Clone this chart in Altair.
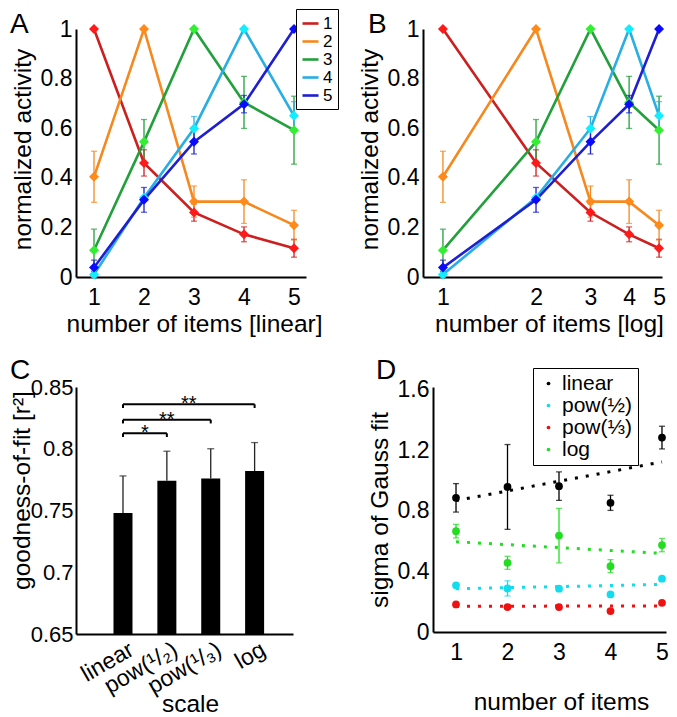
import json
import altair as alt
import pandas as pd

FONT = "Liberation Sans"

# ---------------- data: panels A / B ----------------
items = [1, 2, 3, 4, 5]
series = ["1", "2", "3", "4", "5"]
act_1 = [1.0, 0.46, 0.26, 0.172, 0.116]
act_2 = [0.404, 1.0, 0.304, 0.304, 0.209]
act_3 = [0.108, 0.545, 1.0, 0.704, 0.592]
act_4 = [0.01, 0.32, 0.599, 1.0, 0.65]
act_5 = [0.038, 0.311, 0.545, 0.697, 1.0]
err_1 = [0.0, 0.053, 0.035, 0.03, 0.036]
err_2 = [0.103, 0.0, 0.063, 0.088, 0.06]
err_3 = [0.085, 0.09, 0.0, 0.105, 0.137]
err_4 = [0.012, 0.0, 0.048, 0.0, 0.057]
err_5 = [0.03, 0.05, 0.049, 0.035, 0.0]
line_colors = ["#cc1f1f", "#f5891f", "#22a03c", "#27aee3", "#1e1ed2"]
marker_colors = ["#ff1a1a", "#ff8a1a", "#33ee33", "#11eeff", "#0a0aff"]

# ---------------- data: panel C ----------------
scales = ["linear", "pow(¹/₂)", "pow(¹/₃)", "log"]
scale_idx = [0, 1, 2, 3]
fit = [0.748, 0.774, 0.776, 0.782]
fit_err = [0.030, 0.024, 0.024, 0.023]
br_from = [0, 0, 0]
br_to = [1, 2, 3]
br_y = [0.8125, 0.8235, 0.836]
br_stars = ["*", "**", "**"]

# ---------------- data: panel D ----------------
d_names = ["linear", "pow(½)", "pow(⅓)", "log"]
d_colors = ["#000000", "#11ddee", "#ee1111", "#22dd22"]
sig_linear = [0.886, 0.958, 0.963, 0.853, 1.284]
sig_linear_err = [0.094, 0.28, 0.094, 0.05, 0.075]
sig_pow2 = [0.308, 0.288, 0.286, 0.248, 0.352]
sig_pow2_err = [0.012, 0.05, 0.012, 0.01, 0.012]
sig_pow3 = [0.182, 0.165, 0.165, 0.138, 0.193]
sig_pow3_err = [0.01, 0.01, 0.01, 0.01, 0.01]
sig_log = [0.666, 0.457, 0.637, 0.435, 0.574]
sig_log_err = [0.045, 0.043, 0.18, 0.043, 0.044]
trend_x = [1, 5]
trend_linear = [0.868, 1.123]
trend_pow2 = [0.286, 0.314]
trend_pow3 = [0.170, 0.172]
trend_log = [0.596, 0.519]

# ---------------- tables ----------------
acts = [act_1, act_2, act_3, act_4, act_5]
errs = [err_1, err_2, err_3, err_4, err_5]
df_act = pd.DataFrame(
    [
        {"items": items[i], "series": s, "act": acts[k][i], "err": errs[k][i]}
        for k, s in enumerate(series)
        for i in range(len(items))
    ]
)
df_fit = pd.DataFrame({"idx": scale_idx, "scale": scales, "fit": fit, "err": fit_err})
df_br = pd.DataFrame({"a": br_from, "b": br_to, "y": br_y, "stars": br_stars})

sig_vals = [sig_linear, sig_pow2, sig_pow3, sig_log]
sig_errs = [sig_linear_err, sig_pow2_err, sig_pow3_err, sig_log_err]
df_sig = pd.DataFrame(
    [
        {"items": items[i], "scale": n, "sigma": sig_vals[k][i], "err": sig_errs[k][i]}
        for k, n in enumerate(d_names)
        for i in range(len(items))
    ]
)
trends = [trend_linear, trend_pow2, trend_pow3, trend_log]
df_trend = pd.DataFrame(
    [
        {"items": trend_x[i], "scale": n, "sigma": trends[k][i]}
        for k, n in enumerate(d_names)
        for i in range(2)
    ]
)

# ---------------- styles ----------------
axis_base = dict(
    domainColor="black", domainWidth=2, ticks=False, tickSize=0, grid=False,
    labelFont=FONT, labelColor="black", labelOverlap=False,
    labelFlush=False,
    titleFont=FONT, titleFontSize=24.5, titleFontWeight="normal", titleColor="black",
)


def letter(ch, x, y):
    return alt.Chart(pd.DataFrame({"t": [ch]})).mark_text(
        font=FONT, fontSize=28, align="left", baseline="alphabetic", color="black"
    ).encode(text="t:N", x=alt.value(x), y=alt.value(y))


def activity_panel(ch, x_scale, x_title, width, title_x, legend, letter_x, letter_y):
    xax = alt.Axis(values=items, format="d", title=x_title, labelPadding=9,
                   titlePadding=3, titleX=title_x, labelFontSize=23, **axis_base)
    yax = alt.Axis(values=[0, 0.2, 0.4, 0.6, 0.8, 1.0], format=".1~f",
                   title="normalized activity", labelPadding=4, titlePadding=5,
                   titleY=120, labelFontSize=23, **axis_base)
    ysc = alt.Scale(domain=[0, 1], nice=False)
    base = alt.Chart(df_act)
    col = alt.Color("series:N", scale=alt.Scale(domain=series, range=line_colors),
                    legend=legend)
    col_nl = alt.Color("series:N", legend=None)
    lines = base.mark_line(strokeWidth=2.6).encode(
        x=alt.X("items:Q", scale=x_scale, axis=xax),
        y=alt.Y("act:Q", scale=ysc, axis=yax),
        color=col,
    )
    eb = base.transform_filter("datum.err > 0").transform_calculate(
        lo="datum.act - datum.err", hi="datum.act + datum.err"
    )
    rules = eb.mark_rule(strokeWidth=1.3).encode(
        x=alt.X("items:Q", scale=x_scale, axis=xax),
        y=alt.Y("lo:Q", scale=ysc, axis=yax), y2="hi:Q", color=col_nl,
    )
    cap_hi = eb.mark_tick(orient="horizontal", size=6, thickness=1.3).encode(
        x=alt.X("items:Q", scale=x_scale, axis=xax),
        y=alt.Y("hi:Q", scale=ysc, axis=yax), color=col_nl,
    )
    cap_lo = eb.mark_tick(orient="horizontal", size=6, thickness=1.3).encode(
        x=alt.X("items:Q", scale=x_scale, axis=xax),
        y=alt.Y("lo:Q", scale=ysc, axis=yax), color=col_nl,
    )
    markers = base.mark_point(filled=True, shape="diamond", size=100, opacity=1).encode(
        x=alt.X("items:Q", scale=x_scale, axis=xax),
        y=alt.Y("act:Q", scale=ysc, axis=yax),
        fill=alt.Fill("series:N", scale=alt.Scale(domain=series, range=marker_colors),
                      legend=None),
    )
    return alt.layer(lines, rules, cap_hi, cap_lo, markers,
                     letter(ch, letter_x, letter_y)).properties(width=width, height=248)


legend_a = alt.Legend(
    orient="none", legendX=220, legendY=-20, title=None, strokeColor="black",
    fillColor="white", padding=5, labelFont=FONT, labelFontSize=17,
    labelColor="black", symbolType="stroke", symbolSize=256, symbolStrokeWidth=2.6,
    labelOffset=3, rowPadding=-3,
)

panel_a = activity_panel(
    "A", alt.Scale(domain=[0.64, 5.24], nice=False, zero=False),
    "number of items [linear]", 230, 118, legend_a, -66, 4,
)
panel_b = activity_panel(
    "B", alt.Scale(type="log", domain=[0.862, 5.11], nice=False),
    "number of items [log]", 239, 126, None, -55, 4,
)

# ---------------- panel C ----------------
xsc_c = alt.Scale(domain=[-0.957, 3.761], nice=False, zero=False)
ysc_c = alt.Scale(domain=[0.65, 0.85], nice=False, zero=False)
label_expr = json.dumps(scales, ensure_ascii=False) + "[datum.value]"
xax_c = alt.Axis(values=scale_idx, labelExpr=label_expr, title="scale",
                 labelAngle=-30, labelAlign="right", labelBaseline="top",
                 labelPadding=4, labelOffset=3, titleY=58, titleBaseline="top",
                 titleX=114, labelFontSize=23, **axis_base)
yax_c = alt.Axis(values=[0.65, 0.7, 0.75, 0.8, 0.85], format=".2~f",
                 title="goodness-of-fit [r²]", labelPadding=3, titlePadding=-4,
                 titleY=103, labelFontSize=22, **axis_base)
base_c = alt.Chart(df_fit)
bars = base_c.mark_bar(size=19, color="black", clip=True).encode(
    x=alt.X("idx:Q", scale=xsc_c, axis=xax_c),
    y=alt.Y("fit:Q", scale=ysc_c, axis=yax_c),
    y2=alt.datum(0.65),
)
eb_c = base_c.transform_calculate(hi="datum.fit + datum.err")
err_c = eb_c.mark_rule(strokeWidth=1.3, color="#222222").encode(
    x=alt.X("idx:Q", scale=xsc_c, axis=xax_c),
    y=alt.Y("fit:Q", scale=ysc_c, axis=yax_c), y2="hi:Q",
)
cap_c = eb_c.mark_tick(orient="horizontal", size=7, thickness=1.3, color="#222222").encode(
    x=alt.X("idx:Q", scale=xsc_c, axis=xax_c),
    y=alt.Y("hi:Q", scale=ysc_c, axis=yax_c),
)
base_br = alt.Chart(df_br).transform_calculate(
    mid="(datum.a + datum.b) / 2", foot="datum.y - 0.003"
)
br_line = base_br.mark_rule(strokeWidth=2, color="black").encode(
    x=alt.X("a:Q", scale=xsc_c, axis=xax_c), x2="b:Q",
    y=alt.Y("y:Q", scale=ysc_c, axis=yax_c),
)
br_left = base_br.mark_rule(strokeWidth=2, color="black").encode(
    x=alt.X("a:Q", scale=xsc_c, axis=xax_c),
    y=alt.Y("y:Q", scale=ysc_c, axis=yax_c), y2="foot:Q",
)
br_right = base_br.mark_rule(strokeWidth=2, color="black").encode(
    x=alt.X("b:Q", scale=xsc_c, axis=xax_c),
    y=alt.Y("y:Q", scale=ysc_c, axis=yax_c), y2="foot:Q",
)
br_text = base_br.mark_text(font=FONT, fontSize=20, color="black", dy=6,
                            baseline="alphabetic").encode(
    x=alt.X("mid:Q", scale=xsc_c, axis=xax_c),
    y=alt.Y("y:Q", scale=ysc_c, axis=yax_c), text="stars:N",
)
panel_c = alt.layer(bars, err_c, cap_c, br_line, br_left, br_right, br_text,
                    letter("C", -66, -8)).properties(width=217, height=247)

# ---------------- panel D ----------------
xsc_d = alt.Scale(domain=[0.553, 5.078], nice=False, zero=False)
ysc_d = alt.Scale(domain=[0, 1.618], nice=False)
xax_d = alt.Axis(values=items, format="d", title="number of items", labelPadding=9,
                 titlePadding=26, titleX=128, labelFontSize=23, **axis_base)
yax_d = alt.Axis(values=[0, 0.4, 0.8, 1.2, 1.6], format=".1~f",
                 title="sigma of Gauss fit", labelPadding=4, titlePadding=5,
                 labelFontSize=23, **axis_base)
legend_d = alt.Legend(
    orient="none", legendX=100, legendY=-19, title=None, strokeColor="black",
    fillColor="white", padding=5, labelFont=FONT, labelFontSize=21,
    labelColor="black", symbolType="circle", symbolSize=14, labelOffset=3,
    rowPadding=0,
)
sc_d = alt.Scale(domain=d_names, range=d_colors)
# same colour mapping, listed in another order so these guides stay apart
sc_d_marks = alt.Scale(domain=d_names[::-1], range=d_colors[::-1])
col_d = alt.Color("scale:N", scale=sc_d, legend=legend_d)
col_d_nl = alt.Color("scale:N", legend=None)
stroke_d = alt.Stroke("scale:N", scale=sc_d_marks, legend=None)
fill_d = alt.Fill("scale:N", scale=sc_d_marks, legend=None)
key_d = alt.Chart(df_sig).mark_point(filled=True, shape="circle", size=14, opacity=1).encode(
    x=alt.X("items:Q", scale=xsc_d, axis=xax_d),
    y=alt.Y("sigma:Q", scale=ysc_d, axis=yax_d), color=col_d,
)
trend = alt.Chart(df_trend).mark_line(strokeWidth=3, strokeDash=[3, 8]).encode(
    x=alt.X("items:Q", scale=xsc_d, axis=xax_d),
    y=alt.Y("sigma:Q", scale=ysc_d, axis=yax_d), stroke=stroke_d,
)
eb_d = alt.Chart(df_sig).transform_calculate(
    lo="datum.sigma - datum.err", hi="datum.sigma + datum.err"
)
err_d = eb_d.mark_rule(strokeWidth=1.3).encode(
    x=alt.X("items:Q", scale=xsc_d, axis=xax_d),
    y=alt.Y("lo:Q", scale=ysc_d, axis=yax_d), y2="hi:Q", stroke=stroke_d,
)
cap_d_hi = eb_d.mark_tick(orient="horizontal", size=6, thickness=1.3).encode(
    x=alt.X("items:Q", scale=xsc_d, axis=xax_d),
    y=alt.Y("hi:Q", scale=ysc_d, axis=yax_d), fill=fill_d,
)
cap_d_lo = eb_d.mark_tick(orient="horizontal", size=6, thickness=1.3).encode(
    x=alt.X("items:Q", scale=xsc_d, axis=xax_d),
    y=alt.Y("lo:Q", scale=ysc_d, axis=yax_d), fill=fill_d,
)
pts_d = alt.Chart(df_sig).mark_point(filled=True, shape="circle", size=60, opacity=1).encode(
    x=alt.X("items:Q", scale=xsc_d, axis=xax_d),
    y=alt.Y("sigma:Q", scale=ysc_d, axis=yax_d), color=col_d_nl,
)
panel_d = alt.layer(key_d, trend, err_d, cap_d_hi, cap_d_lo, pts_d,
                    letter("D", -57, -8)).properties(width=233, height=245)

res = dict(color="independent", fill="independent", stroke="independent")
row1 = alt.hconcat(panel_a, panel_b, spacing=18).resolve_scale(**res)
row2 = alt.hconcat(panel_c, panel_d, spacing=74).resolve_scale(**res)
chart = alt.vconcat(row1, row2, spacing=21).resolve_scale(**res).properties(
    padding={"left": 1, "top": 0, "right": 0, "bottom": 0}
).configure_view(stroke=None)

chart.save("out.html", embed_options={"renderer": "svg", "actions": False})
